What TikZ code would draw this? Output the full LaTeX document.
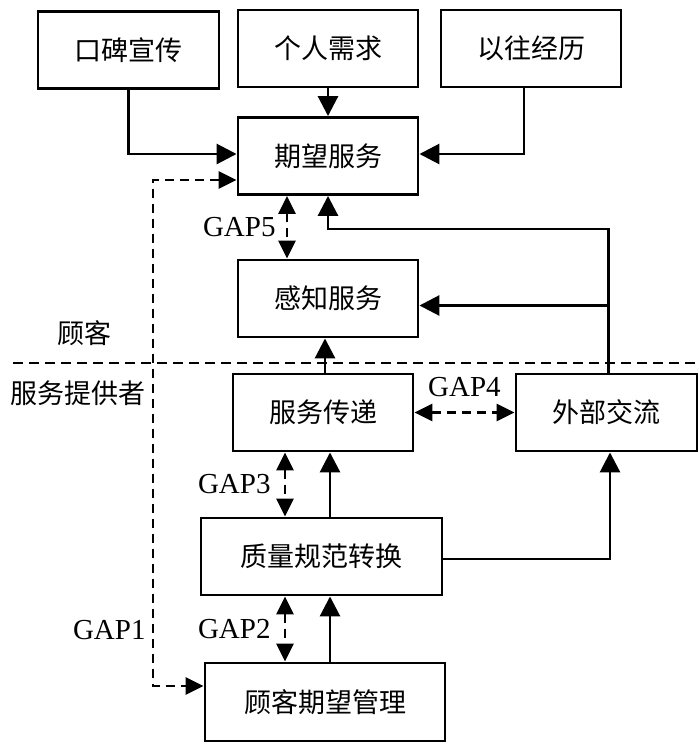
\documentclass[tikz,border=0pt]{standalone}
\usepackage{fontspec}
\setmainfont{Liberation Serif}
\newfontfamily\cjk{Noto Sans CJK SC}
\usetikzlibrary{arrows.meta, calc}

\begin{document}
\begin{tikzpicture}[x=1pt, y=-1pt, line width=2.9pt,
  box/.style={draw, rectangle, minimum height=77pt, font=\cjk\fontsize{27}{27}\selectfont},
  arr/.style={-{Triangle[length=20pt, width=20pt]}},
  gaparr/.style={{Triangle[length=18pt, width=17pt]}-{Triangle[length=18pt, width=17pt]}, dash pattern=on 9pt off 6pt},
  gap/.style={font=\fontsize{29}{29}\selectfont, inner sep=0pt},
  side/.style={font=\cjk\fontsize{27}{27}\selectfont, inner sep=0pt}]
  \useasboundingbox (0,0) rectangle (700,752);

  \node[box, minimum width=181pt] (wom) at (128.5,50) {口碑宣传};
  \node[box, minimum width=180pt] (need) at (328,48.5) {个人需求};
  \node[box, minimum width=180pt] (past) at (531,48.5) {以往经历};
  \node[box, minimum width=180pt] (exp) at (328,156) {期望服务};
  \node[box, minimum width=180pt] (perc) at (328,298.5) {感知服务};
  \node[box, minimum width=180pt] (deliv) at (323,412.5) {服务传递};
  \node[box, minimum width=181pt] (ext) at (606.5,412.5) {外部交流};
  \node[box, minimum width=241pt] (spec) at (321.5,556.5) {质量规范转换};
  \node[box, minimum width=240pt, minimum height=78pt] (mgmt) at (325,702) {顾客期望管理};

  \node[side] (cust) at (84,333) {顾客};
  \node[side] (prov) at (78,393) {服务提供者};
  \coordinate (divl) at (13,363);
  \coordinate (divr) at (700,363);
  \draw[dash pattern=on 10pt off 6pt] (divl) -- (divr);

  % customer side
  \draw[arr] (wom.south) |- ([yshift=2pt]exp.west);
  \draw[arr] (need) -- (exp);
  \draw[arr] ([xshift=-7pt]past.south) |- ([yshift=2pt]exp.east);
  \coordinate (fb) at ($(exp.south)+(0,33)$);
  \coordinate (br) at ($([xshift=2pt]ext.north |- perc.east)+(0,7)$);
  \draw[arr] ([xshift=2pt]ext.north) |- (fb) -- (exp.south);
  \draw[arr] (br) -- (br -| perc.east);
  \draw[gaparr] ([xshift=-41pt]exp.south) -- node[gap, left=10pt] {GAP5} ([xshift=-41pt]perc.north);

  % provider side
  \draw[arr] ([xshift=2pt]deliv.north) -- ([xshift=2pt]deliv.north |- perc.south);
  \draw[gaparr] (deliv) -- node[gap, above=14pt] {GAP4} (ext);
  \draw[gaparr] ([xshift=-38pt]deliv.south) -- node[gap, left=13pt] {GAP3} ([xshift=-38pt]deliv.south |- spec.north);
  \draw[arr] ([xshift=8.5pt]spec.north) -- ([xshift=8.5pt]spec.north |- deliv.south);
  \draw[arr] ([yshift=-2.5pt]spec.east) -| ([xshift=3.5pt]ext.south);
  \draw[gaparr] ([xshift=-36.5pt]spec.south) -- node[gap, left=13pt] {GAP2} ([xshift=-36.5pt]spec.south |- mgmt.north);
  \draw[arr] ([xshift=5pt]mgmt.north) -- ([xshift=5pt]mgmt.north |- spec.south);

  \coordinate (g1) at (153,686);
  \draw[gaparr] ([yshift=-24pt]exp.west) -| (g1) -- ([yshift=16pt]mgmt.west);
  \node[gap, anchor=east] (gap1) at (147,630) {GAP1};
\end{tikzpicture}
\end{document}
